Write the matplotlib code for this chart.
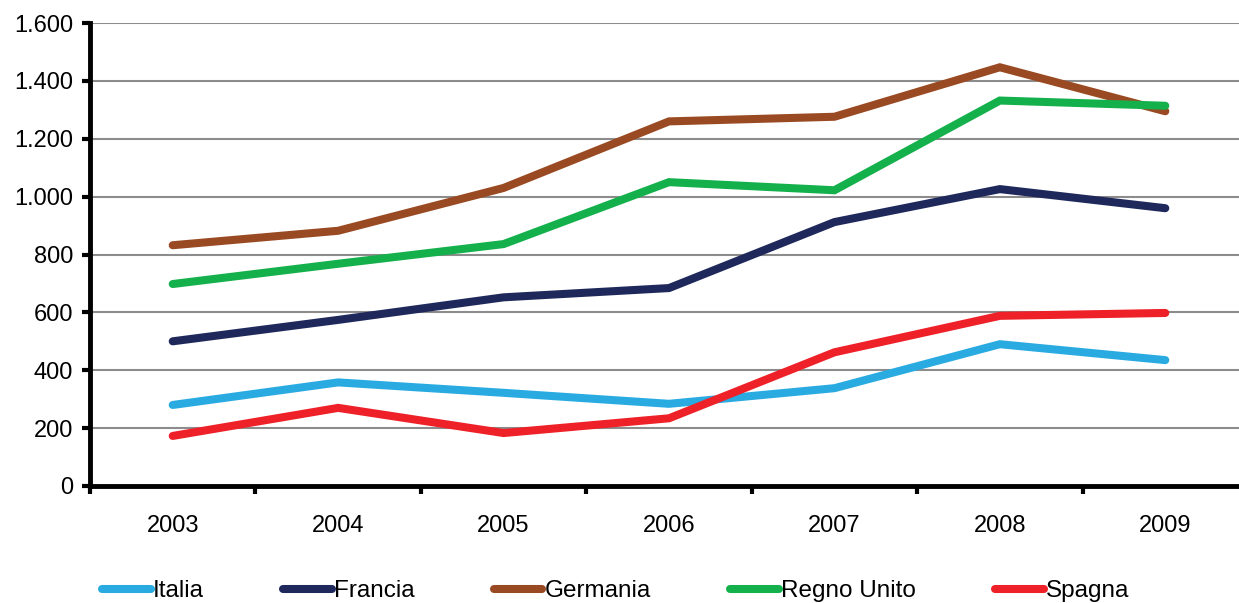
import matplotlib
matplotlib.use("Agg")
import matplotlib.pyplot as plt
from matplotlib.ticker import FuncFormatter, FixedLocator

years = ["2003", "2004", "2005", "2006", "2007", "2008", "2009"]
italia = [280, 358, 322, 284, 338, 490, 435]
francia = [500, 574, 652, 684, 912, 1026, 960]
germania = [832, 882, 1030, 1260, 1276, 1447, 1295]
regno_unito = [698, 768, 836, 1050, 1022, 1332, 1314]
spagna = [173, 270, 183, 234, 462, 588, 598]

series = [
    ("Italia", italia, "#29abe2"),
    ("Francia", francia, "#1f285a"),
    ("Germania", germania, "#9a4a22"),
    ("Regno Unito", regno_unito, "#14b04c"),
    ("Spagna", spagna, "#ee2028"),
]

plt.rcParams['font.family'] = ['Liberation Sans Narrow', 'Liberation Sans', 'DejaVu Sans']

fig = plt.figure(figsize=(12.39, 6.03), dpi=100)
ax = fig.add_axes([90/1239, 1-486/603, 1158/1239, (486-23)/603])

x = list(range(len(years)))
for name, vals, col in series:
    ax.plot(x, vals, color=col, lw=5.8, solid_capstyle='round', solid_joinstyle='miter', label=name)

ax.set_xlim(-0.5, 6.5)
ax.set_ylim(0, 1600)
ax.set_yticks(range(0, 1601, 200))
ax.yaxis.set_major_formatter(FuncFormatter(lambda v, p: f"{int(v):,}".replace(",", ".")))
ax.grid(axis='y', color='#8c8c8c', lw=1.5)
ax.set_axisbelow(True)

ax.set_xticks(x)
ax.set_xticklabels(years)
ax.tick_params(axis='x', which='major', length=0, pad=21, labelsize=17)
ax.xaxis.set_minor_locator(FixedLocator([i - 0.5 for i in range(len(years) + 1)]))
ax.tick_params(axis='x', which='minor', length=6, width=3, direction='out')
ax.tick_params(axis='y', length=6, width=3, labelsize=17, pad=6)

for s in ['top', 'right']:
    ax.spines[s].set_visible(False)
for s in ['left', 'bottom']:
    ax.spines[s].set_linewidth(3.5)

leg = fig.legend(loc='lower center', bbox_to_anchor=(0.497, -0.035), ncol=5, frameon=False,
                 fontsize=17.5, handlelength=2.0, handletextpad=0.1, columnspacing=3.25)

fig.savefig("out.png", dpi=100)
